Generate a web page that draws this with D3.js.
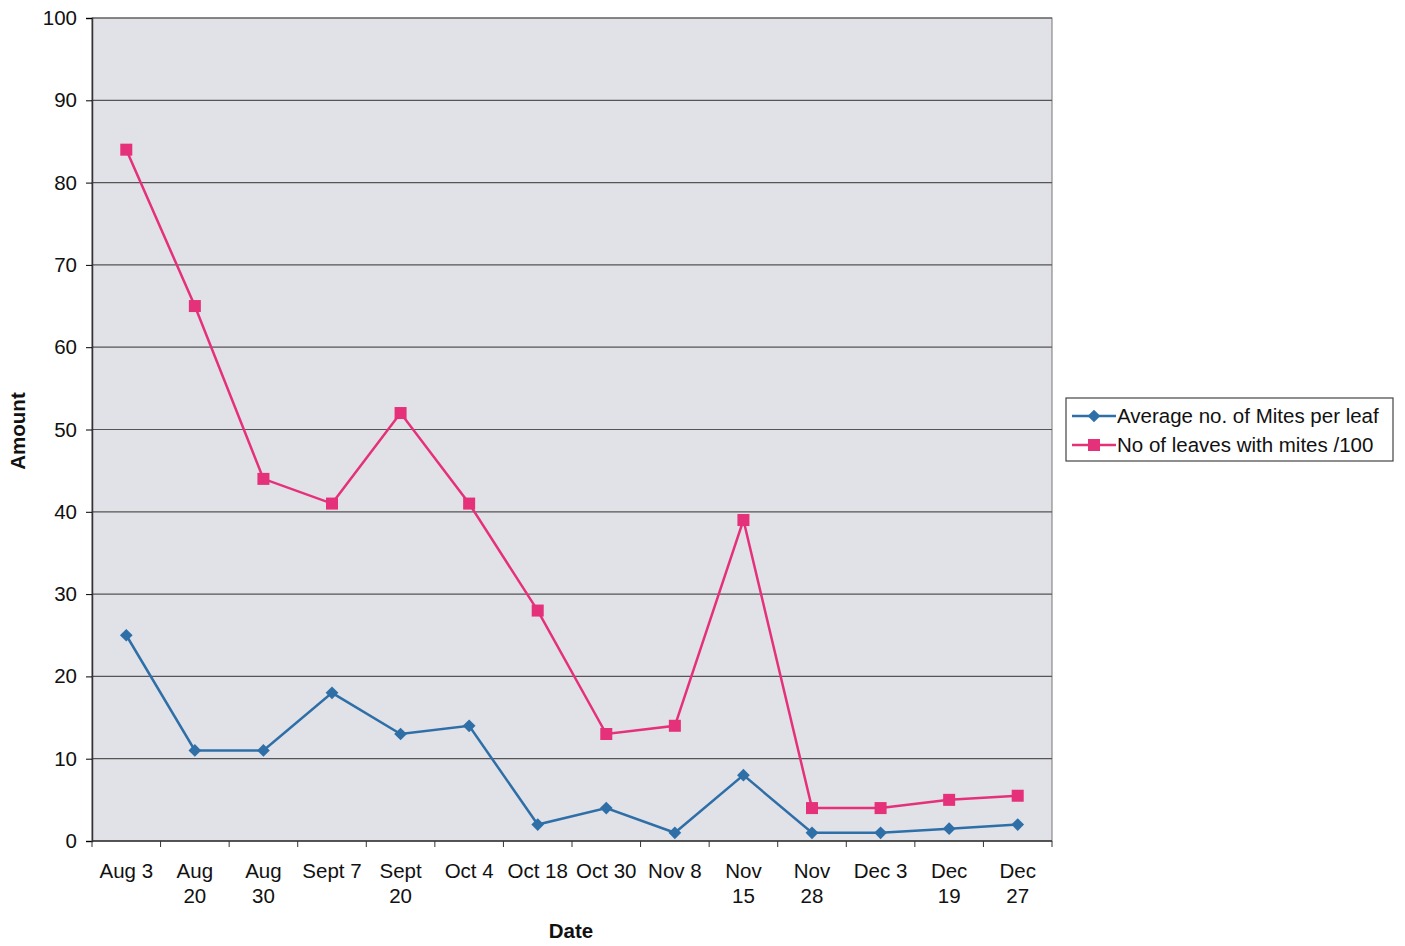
<!DOCTYPE html>
<html><head><meta charset="utf-8">
<script src="https://cdnjs.cloudflare.com/ajax/libs/d3/7.8.5/d3.min.js"></script>
<style>body{margin:0;background:#fff;} svg{display:block;font-family:"Liberation Sans",Arial,sans-serif;}</style>
</head><body><svg id="c" width="1405" height="946"></svg>
<script>
const categories = [["Aug 3"],["Aug","20"],["Aug","30"],["Sept 7"],["Sept","20"],["Oct 4"],["Oct 18"],["Oct 30"],["Nov 8"],["Nov","15"],["Nov","28"],["Dec 3"],["Dec","19"],["Dec","27"]];
const miteAvg = [25, 11, 11, 18, 13, 14, 2, 4, 1, 8, 1, 1, 1.5, 2];
const leavesWithMites = [84, 65, 44, 41, 52, 41, 28, 13, 14, 39, 4, 4, 5, 5.5];
const yTicks = [0,10,20,30,40,50,60,70,80,90,100];
const seriesNames = ["Average no. of Mites per leaf", "No of leaves with mites /100"];

const svg = d3.select("#c");
const L=92, R=1052, T=18, B=841;
const x = d3.scaleBand().domain(d3.range(categories.length)).range([L,R]).padding(0);
const y = d3.scaleLinear().domain([0,100]).range([B,T]);
const blue="#2f6fa7", pink="#e5307a";
const FS=20.5;

svg.append("rect").attr("x",L).attr("y",T).attr("width",R-L).attr("height",B-T).attr("fill","#e1e1e8").attr("stroke","#777").attr("stroke-width",1);

svg.append("g").selectAll("line").data(yTicks.slice(1)).join("line")
  .attr("x1",L).attr("x2",R).attr("y1",d=>y(d)).attr("y2",d=>y(d))
  .attr("stroke","#555").attr("stroke-width",1.2);

const ya = svg.append("g").attr("transform",`translate(${L},0)`)
  .call(d3.axisLeft(y).tickValues(yTicks).tickSize(6).tickPadding(9));
ya.select(".domain").attr("stroke","#333").attr("stroke-width",1.5);
ya.selectAll("text").attr("font-size",FS).attr("fill","#111").attr("font-family","Liberation Sans, Arial, sans-serif");

const xa = svg.append("g").attr("transform",`translate(0,${B})`);
xa.append("line").attr("x1",L).attr("x2",R).attr("stroke","#333").attr("stroke-width",1.5);
xa.selectAll("line.t").data(d3.range(categories.length+1)).join("line").attr("class","t")
  .attr("x1",i=>L+i*x.bandwidth()).attr("x2",i=>L+i*x.bandwidth()).attr("y1",0).attr("y2",6).attr("stroke","#333");
const lbl = xa.selectAll("text").data(categories).join("text")
  .attr("text-anchor","middle").attr("font-size",FS).attr("fill","#111")
  .attr("transform",(d,i)=>`translate(${x(i)+x.bandwidth()/2},0)`);
lbl.selectAll("tspan").data(d=>d).join("tspan").attr("x",0).attr("y",(d,j)=>37+j*25).text(d=>d);

svg.append("text").attr("transform","translate(25,431) rotate(-90)").attr("text-anchor","middle")
  .attr("font-size",FS).attr("font-weight","bold").attr("fill","#111").text("Amount");
svg.append("text").attr("x",571).attr("y",938).attr("text-anchor","middle")
  .attr("font-size",FS).attr("font-weight","bold").attr("fill","#111").text("Date");

const cx = i=>x(i)+x.bandwidth()/2;
const line = d3.line().x((d,i)=>cx(i)).y(d=>y(d));
svg.append("path").datum(miteAvg).attr("d",line).attr("fill","none").attr("stroke",blue).attr("stroke-width",2.5);
svg.append("path").datum(leavesWithMites).attr("d",line).attr("fill","none").attr("stroke",pink).attr("stroke-width",2.5);
svg.append("g").selectAll("rect").data(miteAvg).join("rect")
  .attr("x",-4.5).attr("y",-4.5).attr("width",9).attr("height",9)
  .attr("transform",(d,i)=>`translate(${cx(i)},${y(d)}) rotate(45)`).attr("fill",blue);
svg.append("g").selectAll("rect").data(leavesWithMites).join("rect")
  .attr("x",(d,i)=>cx(i)-6).attr("y",d=>y(d)-6).attr("width",12).attr("height",12).attr("fill",pink);

const lg = svg.append("g").attr("transform","translate(1066,398)");
lg.append("rect").attr("width",327).attr("height",63).attr("fill","#fff").attr("stroke","#444").attr("stroke-width",1.2);
[blue,pink].forEach((c,k)=>{
  const yy = 18+k*29;
  lg.append("line").attr("x1",6).attr("x2",50).attr("y1",yy).attr("y2",yy).attr("stroke",c).attr("stroke-width",2.5);
  if(k===0) lg.append("rect").attr("x",-4.5).attr("y",-4.5).attr("width",9).attr("height",9).attr("transform",`translate(28,${yy}) rotate(45)`).attr("fill",c);
  else lg.append("rect").attr("x",22).attr("y",yy-6).attr("width",12).attr("height",12).attr("fill",c);
  lg.append("text").attr("x",51).attr("y",yy+7).attr("font-size",FS).attr("fill","#111").text(seriesNames[k]);
});
</script></body></html>
